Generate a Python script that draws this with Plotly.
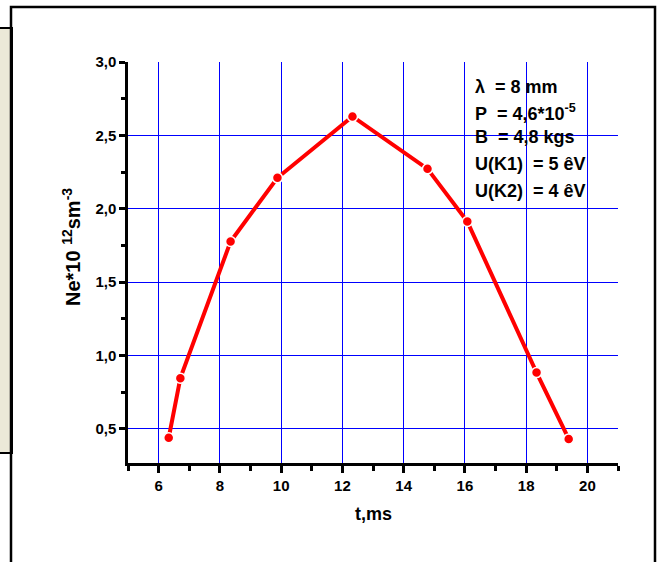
import plotly.graph_objects as go

# Data
t_ms = [6.33, 6.71, 8.35, 9.88, 12.33, 14.78, 16.08, 18.34, 19.39]
ne = [0.44, 0.846, 1.777, 2.211, 2.629, 2.272, 1.913, 0.884, 0.432]

info_lines = [
    "λ&nbsp; = 8 mm",
    "P&nbsp; = 4,6*10<sup>-5</sup>",
    "B&nbsp; = 4,8 kgs",
    "U(K1)&nbsp; = 5 êV",
    "U(K2)&nbsp; = 4 êV",
]
y_title = "Ne*10 <sup>12</sup>sm<sup>-3</sup>"
x_title = "t,ms"

W, H = 662, 562
L, R, T, B = 128, 44, 62, 99
PW, PH = W - L - R, H - T - B


def px(x):
    return (x - L) / PW


def py(y):
    return (H - B - y) / PH


FONT = "Arial, Liberation Sans, sans-serif"

fig = go.Figure()
fig.add_trace(go.Scatter(
    x=t_ms, y=ne, mode="lines+markers",
    line=dict(color="#FF0000", width=4),
    marker=dict(color="#FF0000", size=10, line=dict(color="white", width=1.5)),
    showlegend=False, cliponaxis=False,
))

shapes = [
    # beige panel on the left
    dict(type="rect", xref="paper", yref="paper", x0=px(-2), x1=px(12), y0=py(453), y1=py(28),
         fillcolor="#ECE9D8", line=dict(color="black", width=2), layer="below"),
    # page border
    dict(type="rect", xref="paper", yref="paper", x0=px(11), x1=px(655), y0=py(575), y1=py(7),
         fillcolor="rgba(0,0,0,0)", line=dict(color="black", width=2.5), layer="below"),
    # hide the grid line at the top edge (3,0)
    dict(type="line", xref="paper", yref="paper", x0=px(130), x1=1.01, y0=1, y1=1,
         line=dict(color="white", width=2), layer="between"),
]

annotations = []
ys = [87, 112, 137, 164, 191]
for txt, yy in zip(info_lines, ys):
    annotations.append(dict(
        text=txt, xref="paper", yref="paper", x=px(473), y=py(yy),
        xanchor="left", yanchor="middle", showarrow=False,
        font=dict(family=FONT, size=18, color="black", weight="bold"),
    ))
annotations.append(dict(
    text=y_title, xref="paper", yref="paper", x=px(71), y=py(247),
    xanchor="center", yanchor="middle", showarrow=False, textangle=-90,
    font=dict(family=FONT, size=20, color="black", weight="bold"),
))
annotations.append(dict(
    text=x_title, xref="paper", yref="paper", x=px(373), y=py(514),
    xanchor="center", yanchor="middle", showarrow=False,
    font=dict(family=FONT, size=18, color="black", weight="bold"),
))

fig.update_layout(
    width=W, height=H,
    margin=dict(l=L, r=R, t=T, b=B, pad=0),
    paper_bgcolor="white", plot_bgcolor="white",
    separators=",.",
    shapes=shapes, annotations=annotations,
    font=dict(family=FONT, color="black"),
)
fig.update_xaxes(
    range=[5, 21], tick0=0, dtick=2, tickformat="d",
    showgrid=True, gridcolor="#0000FF", gridwidth=1, zeroline=False,
    showline=True, linecolor="black", linewidth=2.5,
    ticks="outside", ticklen=7, tickwidth=2.5, tickcolor="black",
    minor=dict(dtick=1, ticks="outside", ticklen=5, tickwidth=2.5, tickcolor="black", showgrid=False),
    tickfont=dict(family=FONT, size=15, color="black", weight="bold"),
)
fig.update_yaxes(
    range=[0.268, 3.0], tick0=0, dtick=0.5, tickformat=".1f",
    showgrid=True, gridcolor="#0000FF", gridwidth=1, zeroline=False,
    showline=True, linecolor="black", linewidth=2.5,
    ticks="outside", ticklen=6, tickwidth=2.5, tickcolor="black",
    minor=dict(dtick=0.25, ticks="outside", ticklen=4, tickwidth=2.5, tickcolor="black", showgrid=False),
    tickfont=dict(family=FONT, size=15, color="black", weight="bold"),
)

fig.write_html("out.html")
